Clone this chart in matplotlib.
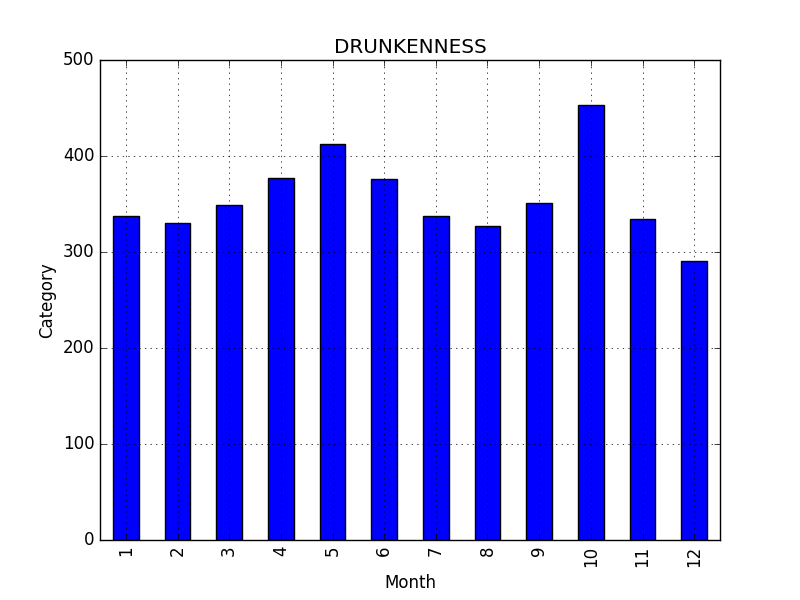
import matplotlib
matplotlib.use("Agg")
import matplotlib.pyplot as plt
import pandas as pd

plt.style.use('classic')

months = [1, 2, 3, 4, 5, 6, 7, 8, 9, 10, 11, 12]
counts = [338, 330, 349, 377, 413, 376, 337, 327, 351, 453, 334, 291]

s = pd.Series(counts, index=months)

fig = plt.figure(figsize=(8, 6), dpi=100)
ax = s.plot(kind='bar', color='blue', grid=True)
ax.set_title('DRUNKENNESS')
ax.set_xlabel('Month')
ax.set_ylabel('Category')
ax.set_ylim(0, 500)
ax.set_axisbelow(False)
fig.subplots_adjust(left=0.125, right=0.9, top=0.9, bottom=0.1)
fig.savefig('out.png', dpi=100)
